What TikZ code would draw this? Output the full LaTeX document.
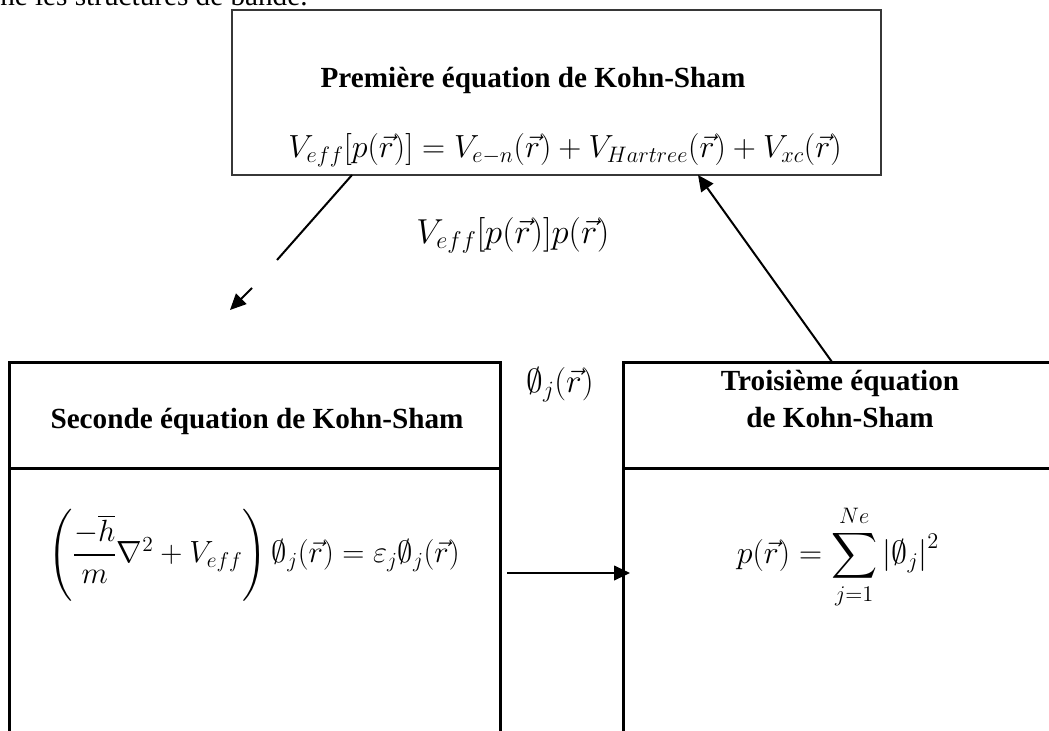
\RequirePackage{fix-cm}
\documentclass[tikz,border=0pt]{standalone}
\usepackage{amsmath,amssymb}
\usepackage{fontspec}
\setmainfont{Liberation Serif}
\usetikzlibrary{arrows.meta, positioning, calc}
\definecolor{BoxGray}{RGB}{55,55,55}
\tikzset{
  topbox/.style={draw=BoxGray, line width=1.1pt, minimum width=486.75pt,
    minimum height=123.75pt, inner sep=0pt, outer sep=0pt},
  eqbox/.style={draw, line width=2.25pt, minimum width=#1,
    minimum height=328.5pt, inner sep=0pt, outer sep=0pt},
  ttl/.style={font=\bfseries\fontsize{21.9}{27.75}\selectfont, inner sep=0pt, align=center},
  eqn/.style={font=\fontsize{#1}{#1}\selectfont, inner sep=0pt},
  eqn/.default=24,
  flow/.style={line width=1.5pt, -{Triangle[length=12pt,width=11pt]}}
}
\begin{document}
\begin{tikzpicture}[x=0.75pt,y=-0.75pt]
  \useasboundingbox (0,0) rectangle (1049,731);
  \clip (0,0) rectangle (1049,731);
  % the three equations
  \node[topbox] (ks1) at (556.5,92.5) {};
  \node[eqbox=368.25pt] (ks2) at (254.5,581) {};
  \node[eqbox=357.75pt] (ks3) at (861.5,581) {};
  \foreach \b in {ks2,ks3}
    \draw[line width=2.25pt] ($(\b.north west)+(0,106)$) -- ($(\b.north east)+(0,106)$);
  \node[font=\fontsize{21.9}{26}\selectfont, inner sep=0pt, anchor=base west] (intro) at (0,6) {ne les structures de bande.};
  \node[ttl, anchor=base] (t1) at (533,88) {Première équation de Kohn-Sham};
  \node[eqn, anchor=base] (e1) at (565,158) {$V_{eff}[p(\vec{r})] = V_{e-n}(\vec{r}) + V_{Hartree}(\vec{r}) + V_{xc}(\vec{r})$};
  \node[ttl, anchor=base] (t2) at (257,428) {Seconde équation de Kohn-Sham};
  \node[eqn=23] (e2) at (254,555) {$\left(\dfrac{-\overline{h}}{m}\nabla^2 + V_{eff}\right)\emptyset_j(\vec{r}) = \varepsilon_j\emptyset_j(\vec{r})$};
  \node[ttl, anchor=base] (t3) at (840,427) {Troisième équation\\de Kohn-Sham};
  \node[eqn] (e3) at (838,557) {$\displaystyle p(\vec{r}) = \sum_{j=1}^{Ne}\left|\emptyset_j\right|^2$};
  % labels between the boxes
  \node[eqn=26, anchor=base] (l1) at (513,243) {$V_{eff}[p(\vec{r})]p(\vec{r})$};
  \node[eqn=25, anchor=base] (l2) at (560,392) {$\emptyset_j(\vec{r})$};
  % connectors
  \coordinate (gap1) at (277,260);
  \coordinate (gap2) at (252,288);
  \coordinate (tip1) at (230,310);
  \draw[line width=1.5pt] ([xshift=90pt]ks1.south west) -- (gap1);
  \draw[flow] (gap2) -- (tip1);
  \draw[flow] ([xshift=156.75pt]ks3.north west) -- ([xshift=-137.25pt]ks1.south east);
  \draw[flow] ($(ks2.north east)+(7,211)$) -- ($(ks3.north west)+(7,211)$);
\end{tikzpicture}
\end{document}
